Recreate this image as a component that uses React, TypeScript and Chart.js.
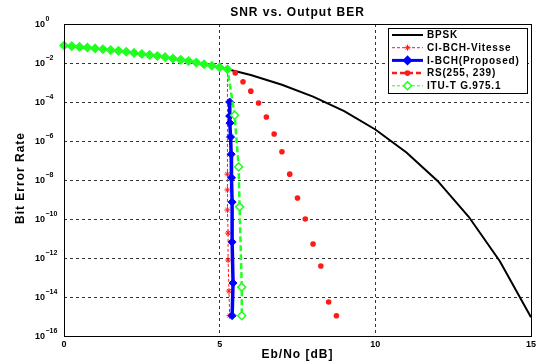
import React, { useEffect, useRef } from "react";
import { Chart, registerables } from "chart.js";

Chart.register(...registerables);

// ---------- data ----------
const seriesLabels = ["BPSK", "CI-BCH-Vitesse", "I-BCH(Proposed)", "RS(255, 239)", "ITU-T G.975.1"];

const bpskX = [0, 1, 2, 3, 4, 5, 6, 7, 8, 9, 10, 11, 12, 13, 14, 15];
const bpskY = [7.9e-2, 5.6e-2, 3.75e-2, 2.3e-2, 1.25e-2, 6.0e-3, 2.4e-3, 7.7e-4, 1.9e-4, 3.4e-5, 3.9e-6, 2.6e-7, 9.0e-9, 1.3e-10, 6.8e-13, 9.1e-16];

const ciX = [0, 0.25, 0.5, 0.75, 1, 1.25, 1.5, 1.75, 2, 2.25, 2.5, 2.75, 3, 3.25, 3.5, 3.75, 4, 4.25, 4.5, 4.75, 5, 5.25,
  5.25, 5.25, 5.25, 5.27, 5.27, 5.3, 5.32];
const ciY = [7.9e-2, 7.3e-2, 6.7e-2, 6.2e-2, 5.6e-2, 5.1e-2, 4.6e-2, 4.2e-2, 3.75e-2, 3.3e-2, 2.9e-2, 2.6e-2, 2.3e-2, 2.0e-2, 1.7e-2, 1.45e-2, 1.25e-2, 1.05e-2, 8.6e-3, 7.2e-3, 6.0e-3, 4.8e-3,
  2.0e-8, 3.1e-9, 2.9e-10, 1.9e-11, 7.9e-13, 2.0e-14, 1.1e-15];

const ibchX = [5.32, 5.32, 5.33, 5.35, 5.37, 5.38, 5.4, 5.4, 5.43, 5.4];
const ibchY = [1e-4, 1.9e-5, 8.3e-6, 1.6e-6, 2.1e-7, 1.3e-8, 7.4e-10, 6.6e-12, 5.2e-14, 1.1e-15];

const rsX = [5.5, 5.75, 6, 6.25, 6.5, 6.75, 7, 7.25, 7.5, 7.75, 8, 8.25, 8.5, 8.75];
const rsY = [3.1e-3, 1.1e-3, 3.6e-4, 8.9e-5, 1.7e-5, 2.3e-6, 2.8e-7, 2.0e-8, 1.2e-9, 1.0e-10, 5.2e-12, 3.9e-13, 5.5e-15, 1.1e-15];

const ituX = [0, 0.25, 0.5, 0.75, 1, 1.25, 1.5, 1.75, 2, 2.25, 2.5, 2.75, 3, 3.25, 3.5, 3.75, 4, 4.25, 4.5, 4.75, 5, 5.25,
  5.48, 5.61, 5.64, 5.71, 5.71];
const ituY = [7.9e-2, 7.3e-2, 6.7e-2, 6.2e-2, 5.6e-2, 5.1e-2, 4.6e-2, 4.2e-2, 3.75e-2, 3.3e-2, 2.9e-2, 2.6e-2, 2.3e-2, 2.0e-2, 1.7e-2, 1.45e-2, 1.25e-2, 1.05e-2, 8.6e-3, 7.2e-3, 6.0e-3, 4.8e-3,
  2.1e-5, 4.7e-8, 4.2e-10, 3.2e-14, 1.1e-15];

const xTicks = [0, 5, 10, 15];
const yExponents = [0, -2, -4, -6, -8, -10, -12, -14, -16];

const titleText = "SNR vs. Output BER";
const xLabel = "Eb/No [dB]";
const yLabel = "Bit Error Rate";

// ---------- styles ----------
const RED = "#ff1a1a";
const BLUE = "#0000ff";
const GREEN = "#22ff22";
const FONT = "'Liberation Sans', Arial, sans-serif";

const legendStyles = [
  { color: "#000", width: 2, dash: [] as number[], marker: "none", fill: true },
  { color: RED, width: 1, dash: [3, 2], marker: "star", fill: false },
  { color: BLUE, width: 3, dash: [], marker: "diamond", fill: true },
  { color: RED, width: 2.5, dash: [5, 3], marker: "circle", fill: true },
  { color: GREEN, width: 1, dash: [3, 2], marker: "diamond", fill: false },
];

const pts = (xs: number[], ys: number[]) => xs.map((x, i) => ({ x, y: ys[i] }));

function drawMarker(ctx: CanvasRenderingContext2D, kind: string, x: number, y: number, color: string, fill: boolean) {
  ctx.save();
  ctx.setLineDash([]);
  ctx.strokeStyle = color;
  ctx.fillStyle = color;
  if (kind === "diamond") {
    const r = 4;
    ctx.beginPath();
    ctx.moveTo(x, y - r);
    ctx.lineTo(x + r, y);
    ctx.lineTo(x, y + r);
    ctx.lineTo(x - r, y);
    ctx.closePath();
    if (fill) ctx.fill();
    else {
      ctx.fillStyle = "#fff";
      ctx.fill();
    }
    ctx.lineWidth = 1.5;
    ctx.stroke();
  } else if (kind === "circle") {
    ctx.beginPath();
    ctx.arc(x, y, 2.8, 0, Math.PI * 2);
    ctx.fill();
  } else if (kind === "star") {
    ctx.lineWidth = 1;
    ctx.beginPath();
    const r = 3;
    ctx.moveTo(x - r, y); ctx.lineTo(x + r, y);
    ctx.moveTo(x, y - r); ctx.lineTo(x, y + r);
    ctx.moveTo(x - 2, y - 2); ctx.lineTo(x + 2, y + 2);
    ctx.moveTo(x - 2, y + 2); ctx.lineTo(x + 2, y - 2);
    ctx.stroke();
  }
  ctx.restore();
}

const decorPlugin = {
  id: "decor",
  afterDraw(chart: any) {
    const { ctx, chartArea: a, scales } = chart;
    ctx.save();
    // box
    ctx.setLineDash([]);
    ctx.strokeStyle = "#000";
    ctx.lineWidth = 1;
    ctx.strokeRect(a.left + 0.5, a.top + 0.5, a.right - a.left, a.bottom - a.top);

    // y tick labels (10^n)
    ctx.fillStyle = "#000";
    ctx.textAlign = "left";
    ctx.textBaseline = "middle";
    for (const e of yExponents) {
      const y = scales.y.getPixelForValue(Math.pow(10, e));
      ctx.font = `bold 9px ${FONT}`;
      ctx.fillText("10", 35, y + 1);
      const w = ctx.measureText("10").width;
      ctx.font = `bold 7px ${FONT}`;
      ctx.fillText(e === 0 ? "0" : "\u2212" + String(-e), 35 + w + 0.5, y - 5);
    }

    // title
    ctx.textAlign = "center";
    ctx.textBaseline = "middle";
    (ctx as any).letterSpacing = "1px";
    ctx.font = `bold 12px ${FONT}`;
    ctx.fillText(titleText, (a.left + a.right) / 2, 13);

    // x label
    ctx.font = `bold 12px ${FONT}`;
    ctx.fillText(xLabel, (a.left + a.right) / 2, 355);

    // y label
    ctx.save();
    ctx.translate(21, 178);
    ctx.rotate(-Math.PI / 2);
    ctx.fillText(yLabel, 0, 0);
    ctx.restore();

    // legend
    (ctx as any).letterSpacing = "0.8px";
    const lx = 388, ly = 28, lw = 139, lh = 65;
    ctx.fillStyle = "#fff";
    ctx.fillRect(lx, ly, lw, lh);
    ctx.strokeStyle = "#000";
    ctx.lineWidth = 1;
    ctx.strokeRect(lx + 0.5, ly + 0.5, lw, lh);
    seriesLabels.forEach((label, i) => {
      const st = legendStyles[i];
      const y = 35 + i * 12.7;
      ctx.save();
      ctx.strokeStyle = st.color;
      ctx.lineWidth = st.width;
      ctx.setLineDash(st.dash);
      ctx.beginPath();
      ctx.moveTo(392, y);
      ctx.lineTo(423, y);
      ctx.stroke();
      ctx.restore();
      if (st.marker !== "none") drawMarker(ctx, st.marker, 407.5, y, st.color, st.fill);
      ctx.fillStyle = "#000";
      ctx.textAlign = "left";
      ctx.textBaseline = "middle";
      ctx.font = `bold 10px ${FONT}`;
      ctx.fillText(label, 427, y + 0.5);
    });
    (ctx as any).letterSpacing = "0px";
    ctx.restore();
  },
};

export default function App() {
  const ref = useRef<HTMLCanvasElement | null>(null);

  useEffect(() => {
    document.body.style.margin = "0";
    const canvas = ref.current;
    if (!canvas) return;
    const gridColor = (c: any) => {
      const v = c.tick ? c.tick.value : null;
      return v === 0 || v === 15 || v === 1 || v === 1e-16 ? "rgba(0,0,0,0)" : "#333";
    };
    const chart = new Chart(canvas, {
      type: "line",
      data: {
        datasets: [
          {
            label: seriesLabels[4],
            data: pts(ituX, ituY),
            borderColor: GREEN,
            borderWidth: 2.5,
            borderDash: [6, 3],
            pointStyle: "rectRot",
            pointRadius: 4,
            pointBorderWidth: 1.5,
            pointBorderColor: GREEN,
            pointBackgroundColor: (c: any) => (c.dataIndex >= 22 ? "#fff" : GREEN),
            order: 0,
            clip: 8,
          },
          {
            label: seriesLabels[3],
            data: pts(rsX, rsY),
            showLine: false,
            borderColor: RED,
            pointStyle: "circle",
            pointRadius: 2.8,
            pointBorderWidth: 0,
            pointBackgroundColor: RED,
            order: 1,
            clip: 8,
          },
          {
            label: seriesLabels[2],
            data: pts(ibchX, ibchY),
            borderColor: BLUE,
            borderWidth: 3.5,
            pointStyle: "rectRot",
            pointRadius: 4,
            pointBorderWidth: 1,
            pointBorderColor: BLUE,
            pointBackgroundColor: BLUE,
            order: 2,
            clip: 8,
          },
          {
            label: seriesLabels[1],
            data: pts(ciX, ciY),
            borderColor: RED,
            borderWidth: 1,
            borderDash: [3, 2],
            pointStyle: "star",
            pointRadius: 3,
            pointBorderWidth: 1,
            pointBorderColor: RED,
            pointBackgroundColor: RED,
            order: 3,
            clip: 8,
          },
          {
            label: seriesLabels[0],
            data: pts(bpskX, bpskY),
            borderColor: "#000",
            borderWidth: 2,
            pointRadius: 0,
            order: 4,
            clip: 8,
          },
        ],
      },
      options: {
        animation: false,
        responsive: false,
        maintainAspectRatio: false,
        events: [],
        layout: { padding: { top: 24, right: 7, left: 0, bottom: 0 } },
        elements: { line: { tension: 0 } },
        plugins: {
          legend: { display: false },
          tooltip: { enabled: false },
          title: { display: false },
        },
        scales: {
          x: {
            type: "linear",
            min: 0,
            max: 15,
            afterBuildTicks: (s: any) => {
              s.ticks = xTicks.map((v) => ({ value: v }));
            },
            afterFit: (s: any) => {
              s.height = 28;
            },
            grid: { color: gridColor, lineWidth: 1, drawTicks: false },
            border: { display: false, dash: [3, 3] },
            ticks: {
              color: "#000",
              font: { family: FONT, weight: "bold", size: 9 },
              padding: 3,
              maxRotation: 0,
              autoSkip: false,
            },
          },
          y: {
            type: "logarithmic",
            min: 1e-16,
            max: 1,
            afterBuildTicks: (s: any) => {
              s.ticks = yExponents.map((e) => ({ value: Math.pow(10, e) }));
            },
            afterFit: (s: any) => {
              s.width = 64;
            },
            grid: { color: gridColor, lineWidth: 1, drawTicks: false },
            border: { display: false, dash: [3, 3] },
            ticks: { display: false },
          },
        },
      } as any,
      plugins: [decorPlugin],
    });
    return () => chart.destroy();
  }, []);

  return (
    <div style={{ position: "relative", width: 539, height: 364 }}>
      <canvas ref={ref} width={539} height={364} style={{ display: "block", width: 539, height: 364 }} />
    </div>
  );
}
